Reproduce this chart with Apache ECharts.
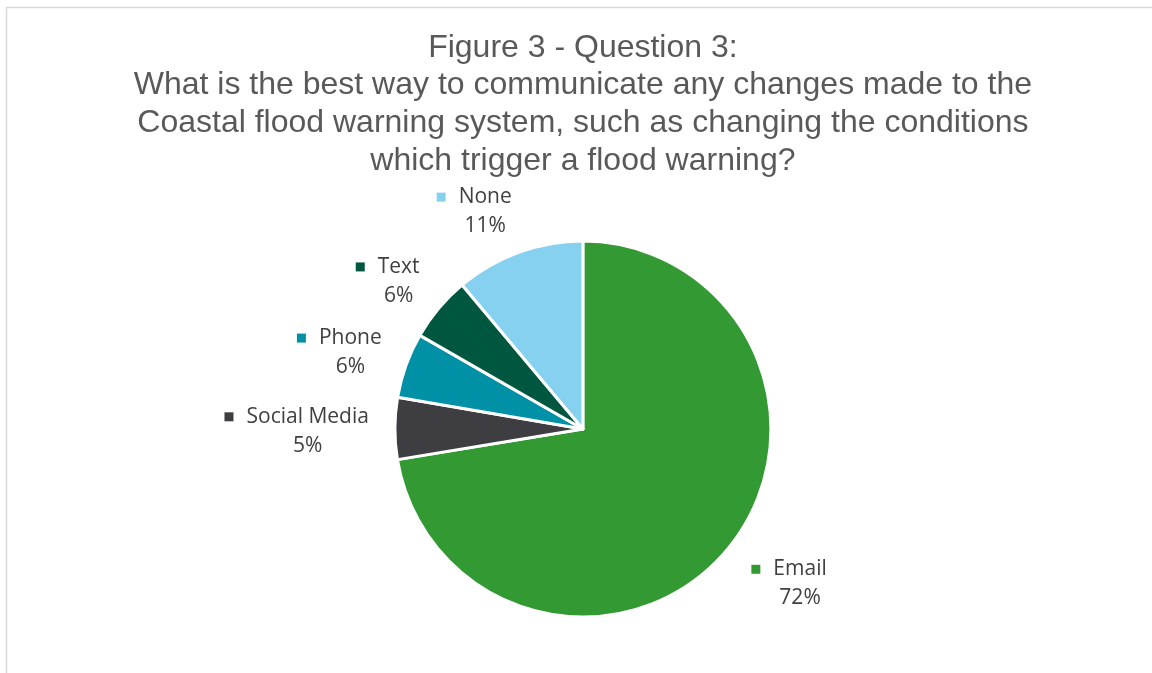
<!DOCTYPE html>
<html>
<head>
<meta charset="utf-8">
<script src="https://cdn.jsdelivr.net/npm/echarts@6/dist/echarts.min.js"></script>
<style>
  html, body { margin: 0; padding: 0; background: #ffffff; }
  #chart { width: 1152px; height: 673px; }
</style>
</head>
<body>
<div id="chart"></div>
<script>
// ---- data ----
const titleLines = [
  'Figure 3 - Question 3:',
  'What is the best way to communicate any changes made to the',
  'Coastal flood warning system, such as changing the conditions',
  'which trigger a flood warning?'
];
const categories = ['Email', 'Social Media', 'Phone', 'Text', 'None'];
const shares = [72.4, 5.3, 5.6, 5.6, 11.1];
const colors = ['#339933', '#3e3d42', '#0091a6', '#00573f', '#86d1f0'];

// ---- layout constants ----
const CENTER_X = 0.506;   // fraction of width
const CENTER_Y = 0.6375;  // fraction of height
const RADIUS_FRAC = 0.5587; // fraction of min(w,h)/2
const LABEL_GAP = 29;

const chart = echarts.init(document.getElementById('chart'), null, { renderer: 'canvas' });

const total = shares.reduce((a, b) => a + b, 0);

const rich = {
  g: { width: 13 },
  s: { width: 22 },
  n: { fontFamily: 'Open Sans', fontSize: 21, color: '#404040', lineHeight: 29 },
  p: { fontFamily: 'Open Sans', fontSize: 21, color: '#404040', lineHeight: 29 }
};
colors.forEach((c, i) => {
  rich['m' + i] = { width: 9, height: 9, backgroundColor: c, fontSize: 1 };
});

function placeLabel(params) {
  const i = params.dataIndex;
  const w = chart.getWidth(), h = chart.getHeight();
  const cx = CENTER_X * w, cy = CENTER_Y * h;
  const r = RADIUS_FRAC * Math.min(w, h) / 2;
  let before = 0;
  for (let j = 0; j < i; j++) before += shares[j];
  const mid = (before + shares[i] / 2) / total * Math.PI * 2;
  const dx = Math.sin(mid), dy = -Math.cos(mid);
  const clamp = v => Math.max(-1, Math.min(1, v));
  const ux = clamp(dx * 5), uy = dy * 0.7;
  const hw = params.labelRect.width / 2, hh = params.labelRect.height / 2;
  const ax = cx + dx * (r + LABEL_GAP), ay = cy + dy * (r + LABEL_GAP);
  return { x: ax + ux * hw + 3, y: ay + uy * hh + 3, align: 'center', verticalAlign: 'middle' };
}

const option = {
  backgroundColor: '#ffffff',
  animation: false,
  graphic: [{
    type: 'rect',
    shape: { x: 6.5, y: 7.5, width: 1300, height: 800 },
    style: { fill: 'none', stroke: '#d9d9d9', lineWidth: 1.5 },
    silent: true
  }],
  title: {
    text: titleLines.join('\n'),
    left: '50.6%',
    top: 29,
    padding: 0,
    textAlign: 'center',
    textStyle: {
      fontFamily: 'Liberation Sans',
      fontSize: 32,
      fontWeight: 'normal',
      color: '#595959',
      lineHeight: 37.7
    }
  },
  series: [{
    type: 'pie',
    center: [(CENTER_X * 100) + '%', (CENTER_Y * 100) + '%'],
    radius: (RADIUS_FRAC * 100) + '%',
    startAngle: 90,
    clockwise: true,
    percentPrecision: 0,
    avoidLabelOverlap: false,
    itemStyle: { borderColor: '#ffffff', borderWidth: 3 },
    label: {
      show: true,
      position: 'outside',
      align: 'center',
      formatter: p => '{m' + p.dataIndex + '| }{g|}{n|' + p.name + '}\n{s|}{p|' + p.percent + '%}',
      rich: rich
    },
    labelLine: { show: false, length: 0, length2: 0 },
    labelLayout: placeLabel,
    emphasis: { disabled: true },
    data: categories.map((name, i) => ({
      name: name,
      value: shares[i],
      itemStyle: { color: colors[i] }
    }))
  }]
};

chart.setOption(option);
</script>
</body>
</html>
